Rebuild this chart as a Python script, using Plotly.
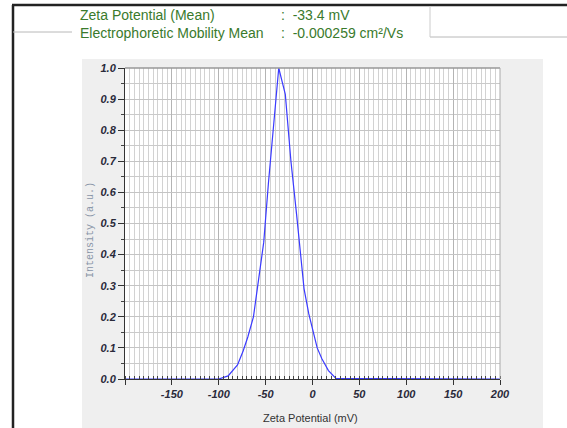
import plotly.graph_objects as go

# ---- data ----
zeta_mv = [-200, -100, -90, -80, -74, -69, -63, -58, -52, -47, -43, -36, -29, -23,
           -17, -13, -9, -4, 1, 5, 10, 17, 25, 200]
intensity = [0.0, 0.0, 0.01, 0.045, 0.09, 0.135, 0.20, 0.305, 0.44, 0.63, 0.76, 1.0,
             0.915, 0.70, 0.53, 0.40, 0.29, 0.21, 0.145, 0.10, 0.065, 0.027, 0.002, 0.0]
x_tick_vals = [-200, -150, -100, -50, 0, 50, 100, 150, 200]
x_tick_text = ["", "-150", "-100", "-50", "0", "50", "100", "150", "200"]
y_tick_vals = [0.0, 0.1, 0.2, 0.3, 0.4, 0.5, 0.6, 0.7, 0.8, 0.9, 1.0]
y_tick_text = ["0.0", "0.1", "0.2", "0.3", "0.4", "0.5", "0.6", "0.7", "0.8", "0.9", "1.0"]
header_labels = ["Zeta Potential (Mean)", "Electrophoretic Mobility Mean"]
header_values = [":  -33.4 mV", ":  -0.000259 cm²/Vs"]

W, H = 567, 428
L, R, T, B = 125, 67, 68, 49
PW, PH = W - L - R, H - T - B


def px(x):
    return (x - L) / PW


def py(y):
    return (H - B - y) / PH


fig = go.Figure()
fig.add_trace(go.Scatter(x=zeta_mv, y=intensity, mode="lines",
                         line=dict(color="#3a3aff", width=1.2), showlegend=False))

shapes = [
    # gray panel
    dict(type="rect", xref="paper", yref="paper", x0=px(82), x1=px(543), y0=py(430), y1=py(59),
         fillcolor="#efefef", line=dict(width=0), layer="below"),
    # white plot area
    dict(type="rect", xref="x", yref="y", x0=-200, x1=200, y0=0, y1=1,
         fillcolor="white", line=dict(width=0), layer="below"),
    # top & right frame of plot
    dict(type="line", xref="paper", yref="paper", x0=0, x1=1, y0=1, y1=1,
         line=dict(color="#999999", width=1.5)),
    dict(type="line", xref="paper", yref="paper", x0=1, x1=1, y0=0, y1=1,
         line=dict(color="#aaaaaa", width=1)),
    # black page border
    dict(type="line", xref="paper", yref="paper", x0=px(12), x1=px(567), y0=py(5), y1=py(5),
         line=dict(color="#222222", width=2.5)),
    dict(type="line", xref="paper", yref="paper", x0=px(13), x1=px(13), y0=py(5), y1=py(430),
         line=dict(color="#222222", width=2.5)),
    # header thin lines
    dict(type="line", xref="paper", yref="paper", x0=px(13), x1=px(72), y0=py(32), y1=py(32),
         line=dict(color="#b8b8b8", width=1)),
    dict(type="line", xref="paper", yref="paper", x0=px(430), x1=px(567), y0=py(37), y1=py(37),
         line=dict(color="#b8b8b8", width=1)),
    dict(type="line", xref="paper", yref="paper", x0=px(430), x1=px(430), y0=py(6), y1=py(37),
         line=dict(color="#cccccc", width=1)),
]

hfont = dict(family="Liberation Sans, Arial", size=14, color="#3a7a2c")
annotations = []
for i, (lab, val) in enumerate(zip(header_labels, header_values)):
    yc = 15 + 18 * i
    annotations.append(dict(text=lab, xref="paper", yref="paper", x=px(78), y=py(yc),
                            xanchor="left", yanchor="middle", showarrow=False, font=hfont))
    annotations.append(dict(text=val, xref="paper", yref="paper", x=px(279), y=py(yc),
                            xanchor="left", yanchor="middle", showarrow=False, font=hfont))
annotations.append(dict(text="Intensity (a.u.)", xref="paper", yref="paper", x=px(90), y=py(230),
                        textangle=-90, showarrow=False, xanchor="center", yanchor="middle",
                        font=dict(family="Liberation Mono, DejaVu Sans Mono", size=10, color="#8a96a8")))
annotations.append(dict(text="Zeta Potential (mV)", xref="paper", yref="paper", x=px(310), y=py(418),
                        showarrow=False, xanchor="center", yanchor="middle",
                        font=dict(family="Liberation Sans, Arial", size=11, color="#333333")))

tickfont = dict(family="Liberation Sans, Arial", size=11, color="#2a2a3a", weight="bold", style="italic")

fig.update_layout(
    width=W, height=H, margin=dict(l=L, r=R, t=T, b=B, autoexpand=False),
    paper_bgcolor="white", plot_bgcolor="white",
    shapes=shapes, annotations=annotations,
    xaxis=dict(range=[-200, 200], tickvals=x_tick_vals, ticktext=x_tick_text,
               ticks="outside", ticklen=5, tickcolor="#333", tickfont=tickfont,
               showgrid=True, gridcolor="#b4b4b4", gridwidth=1,
               showline=True, linecolor="#333333", linewidth=1, zeroline=False,
               minor=dict(dtick=5, ticks="inside", ticklen=3, tickcolor="#444",
                          showgrid=True, gridcolor="#d2d2d2", gridwidth=1)),
    yaxis=dict(range=[0, 1], tickvals=y_tick_vals, ticktext=y_tick_text,
               ticks="outside", ticklen=6, tickcolor="#333", tickfont=tickfont,
               showgrid=True, gridcolor="#c4c4c4", gridwidth=1.3,
               showline=True, linecolor="#333333", linewidth=1, zeroline=False,
               minor=dict(dtick=0.05, ticks="outside", ticklen=3, tickcolor="#444",
                          showgrid=True, gridcolor="#cacaca", gridwidth=1.3)),
)

fig.write_html("out.html")
